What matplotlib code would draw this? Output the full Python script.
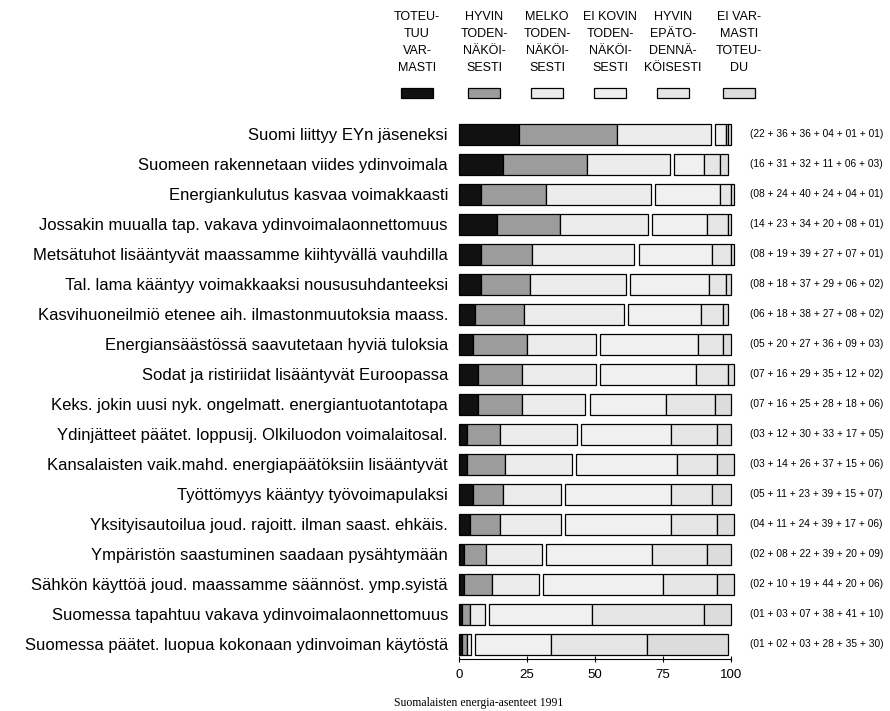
import matplotlib
matplotlib.use("Agg")
import matplotlib.pyplot as plt
import numpy as np
from matplotlib.patches import Rectangle

categories = [
    "Suomi liittyy EYn jäseneksi",
    "Suomeen rakennetaan viides ydinvoimala",
    "Energiankulutus kasvaa voimakkaasti",
    "Jossakin muualla tap. vakava ydinvoimalaonnettomuus",
    "Metsätuhot lisääntyvät maassamme kiihtyvällä vauhdilla",
    "Tal. lama kääntyy voimakkaaksi noususuhdanteeksi",
    "Kasvihuoneilmiö etenee aih. ilmastonmuutoksia maass.",
    "Energiansäästössä saavutetaan hyviä tuloksia",
    "Sodat ja ristiriidat lisääntyvät Euroopassa",
    "Keks. jokin uusi nyk. ongelmatt. energiantuotantotapa",
    "Ydinjätteet päätet. loppusij. Olkiluodon voimalaitosal.",
    "Kansalaisten vaik.mahd. energiapäätöksiin lisääntyvät",
    "Työttömyys kääntyy työvoimapulaksi",
    "Yksityisautoilua joud. rajoitt. ilman saast. ehkäis.",
    "Ympäristön saastuminen saadaan pysähtymään",
    "Sähkön käyttöä joud. maassamme säännöst. ymp.syistä",
    "Suomessa tapahtuu vakava ydinvoimalaonnettomuus",
    "Suomessa päätet. luopua kokonaan ydinvoiman käytöstä",
]

toteutuu_varmasti = [22, 16, 8, 14, 8, 8, 6, 5, 7, 7, 3, 3, 5, 4, 2, 2, 1, 1]
hyvin_todennakoisesti = [36, 31, 24, 23, 19, 18, 18, 20, 16, 16, 12, 14, 11, 11, 8, 10, 3, 2]
melko_todennakoisesti = [36, 32, 40, 34, 39, 37, 38, 27, 29, 25, 30, 26, 23, 24, 22, 19, 7, 3]
ei_kovin_todennakoisesti = [4, 11, 24, 20, 27, 29, 27, 36, 35, 28, 33, 37, 39, 39, 39, 44, 38, 28]
hyvin_epatodennakoisesti = [1, 6, 4, 8, 7, 6, 8, 9, 12, 18, 17, 15, 15, 17, 20, 20, 41, 35]
ei_varmasti_toteudu = [1, 3, 1, 1, 1, 2, 2, 3, 2, 6, 5, 6, 7, 6, 9, 6, 10, 30]

legend_labels = [
    "TOTEU-\nTUU\nVAR-\nMASTI",
    "HYVIN\nTODEN-\nNÄKÖI-\nSESTI",
    "MELKO\nTODEN-\nNÄKÖI-\nSESTI",
    "EI KOVIN\nTODEN-\nNÄKÖI-\nSESTI",
    "HYVIN\nEPÄTO-\nDENNÄ-\nKÖISESTI",
    "EI VAR-\nMASTI\nTOTEU-\nDU",
]
x_ticks = [0, 25, 50, 75, 100]
caption = "Suomalaisten energia-asenteet 1991"

series = [toteutuu_varmasti, hyvin_todennakoisesti, melko_todennakoisesti,
          ei_kovin_todennakoisesti, hyvin_epatodennakoisesti, ei_varmasti_toteudu]
colors = ["#111111", "#9c9c9c", "#ececec", "#f0f0f0", "#e6e6e6", "#dcdcdc"]

plt.rcParams['font.family'] = ['Liberation Sans', 'DejaVu Sans']

fig = plt.figure(figsize=(8.9, 7.11), dpi=100)
ax = fig.add_axes([459/890, 1-659/711, 272/890, 540/711])

n = len(categories)
y = np.arange(n)
gap = 1.5
left = np.zeros(n)
for i, (vals, c) in enumerate(zip(series, colors)):
    vals = np.array(vals, dtype=float)
    w = vals.copy()
    if i == 2:
        w = np.maximum(w - gap, 0.5)
    ax.barh(y, w, left=left, height=0.7, color=c, edgecolor="black",
            linewidth=0.9, clip_on=False)
    left = left + vals

ax.set_ylim(n - 0.5, -0.5)
ax.set_xlim(0, 100)
ax.set_yticks(y)
ax.set_yticklabels(categories, fontsize=12)
ax.tick_params(axis='y', length=0, pad=8)
ax.set_xticks(x_ticks)
ax.set_xticklabels([str(t) for t in x_ticks], fontsize=9.5)
ax.tick_params(axis='x', direction='inout', length=5, width=0.8, pad=5)
for s in ['top', 'right', 'left']:
    ax.spines[s].set_visible(False)
ax.spines['bottom'].set_linewidth(0.8)

# right annotations
for i in range(n):
    vals = [s[i] for s in series]
    txt = "(" + " + ".join(f"{v:02d}" for v in vals) + ")"
    ax.text(750/890, 1-(134 + 30*i)/711, txt, transform=fig.transFigure,
            fontsize=7.3, ha='left', va='center')

# legend
leg_x = [417, 484, 547, 610, 673, 739]
for lx, lab, c in zip(leg_x, legend_labels, colors):
    fig.text(lx/890, 1-11/711, lab, ha='center', va='top', fontsize=9,
             linespacing=1.55)
    fig.patches.append(Rectangle(((lx-16)/890, 1-98/711), 32/890, 10/711,
                                 facecolor=c, edgecolor='black', linewidth=0.9,
                                 transform=fig.transFigure))

fig.text(479/890, 1-703/711, caption, ha='center', va='center', fontsize=8.5,
         family=['Liberation Serif', 'DejaVu Serif'])

fig.savefig("out.png", dpi=100)
